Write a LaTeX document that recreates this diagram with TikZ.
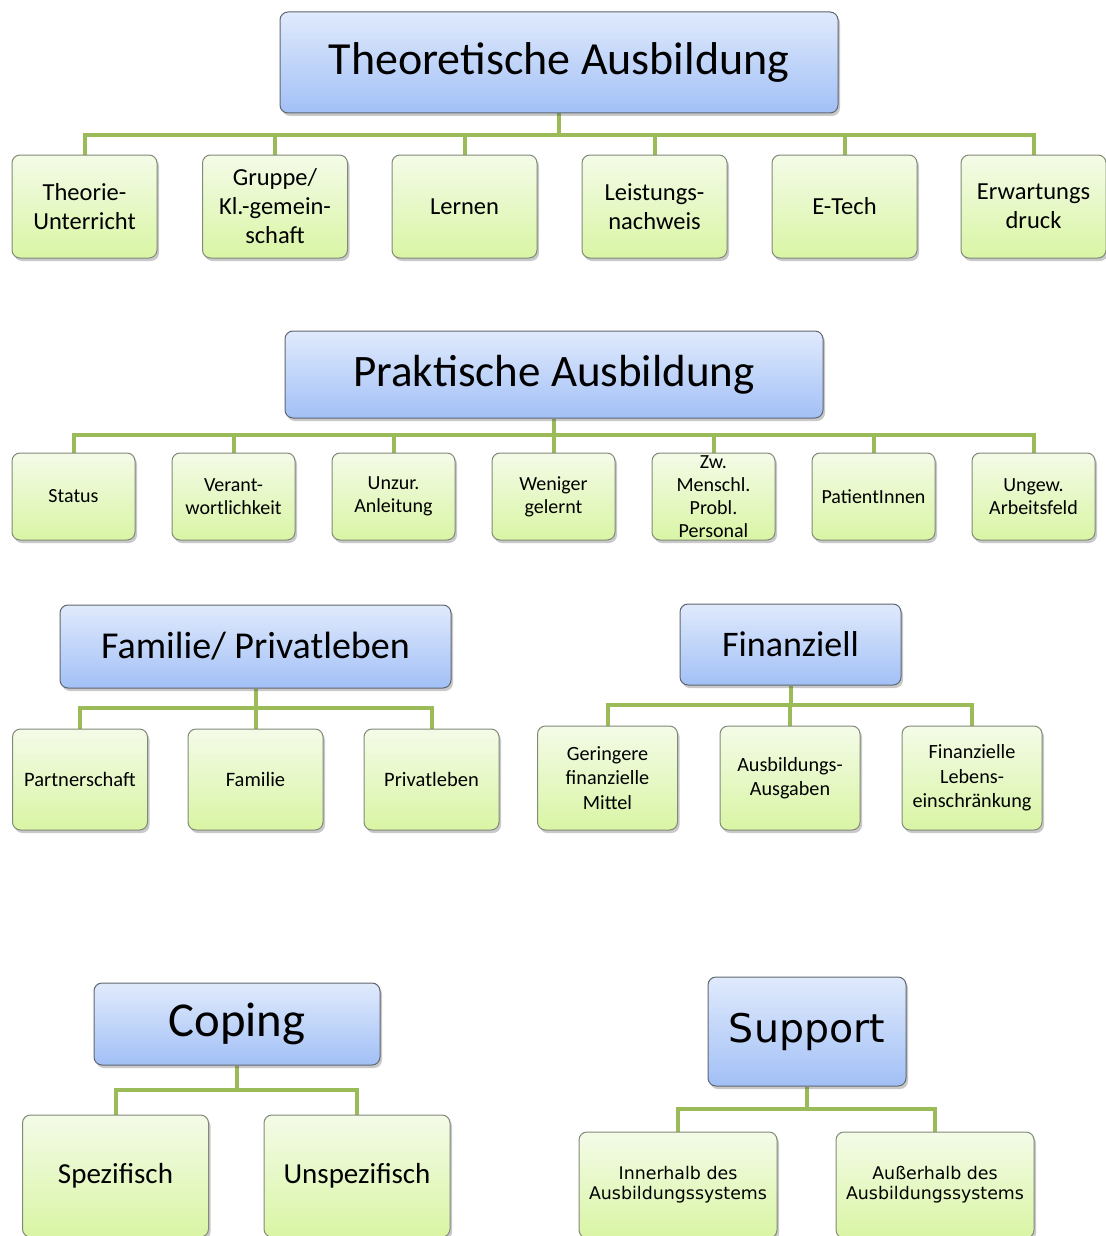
\documentclass[tikz,border=0pt]{standalone}
\usepackage{fontspec}
\setmainfont{Carlito}
\newfontfamily\dejavu{DejaVu Sans}
\usetikzlibrary{shadows,backgrounds}
\definecolor{hdrtop}{HTML}{E0EAFC}
\definecolor{hdrbot}{HTML}{A2C0F6}
\definecolor{kidtop}{HTML}{F4FBE8}
\definecolor{kidbot}{HTML}{D9F5A4}
\definecolor{hdrborder}{HTML}{5F6670}
\definecolor{kidborder}{HTML}{808A78}
\definecolor{linkgreen}{HTML}{9BBB59}
\begin{document}
\begin{tikzpicture}[x=1pt,y=-1pt,
  boxbase/.style={rounded corners=8pt, align=center, inner sep=0pt, text=black,
    drop shadow={shadow xshift=2pt, shadow yshift=-3pt, opacity=0.3, fill=black!70}},
  hdr/.style={boxbase, draw=hdrborder, line width=1pt, top color=hdrtop, bottom color=hdrbot},
  kid/.style={boxbase, draw=kidborder, line width=1pt, top color=kidtop, bottom color=kidbot},
  link/.style={draw=linkgreen, line width=4pt, line join=miter}]
\useasboundingbox (0,0) rectangle (1105,1236);

% ---------- Row 1 ----------
\node[hdr, minimum width=558pt, minimum height=101pt, font=\fontsize{46}{52}\selectfont] (T) at (559,62.5) {Theoretische Ausbildung};
\begin{scope}[every node/.append style={kid, minimum width=145pt, minimum height=103pt, font=\fontsize{24.5}{29}\selectfont}]
\node (t1) at (84.5,206.5) {Theorie-\\Unterricht};
\node (t2) at (275,206.5) {Gruppe/\\Kl.-gemein-\\schaft};
\node (t3) at (464.5,206.5) {Lernen};
\node (t4) at (654.5,206.5) {Leistungs-\\nachweis};
\node (t5) at (844.5,206.5) {E-Tech};
\node (t6) at (1033.5,206.5) {Erwartungs\\druck};
\end{scope}
\coordinate (b1) at (559,135);

% ---------- Row 2 ----------
\node[hdr, minimum width=538pt, minimum height=87pt, font=\fontsize{45}{50}\selectfont] (P) at (554,374.5) {Praktische Ausbildung};
\begin{scope}[every node/.append style={kid, minimum width=123pt, minimum height=87pt, font=\fontsize{20}{23}\selectfont}]
\node (p1) at (73.5,496.5) {Status};
\node (p2) at (233.5,496.5) {Verant-\\wortlichkeit};
\node (p3) at (393.5,496.5) {Unzur.\\Anleitung};
\node (p4) at (553.5,496.5) {Weniger\\gelernt};
\node (p5) at (713.5,496.5) {Zw.\\Menschl.\\Probl.\\Personal};
\node (p6) at (873.5,496.5) {PatientInnen};
\node (p7) at (1033.5,496.5) {Ungew.\\Arbeitsfeld};
\end{scope}
\coordinate (b2) at (554,435);

% ---------- Row 3 left ----------
\node[hdr, minimum width=391pt, minimum height=83pt, font=\fontsize{38}{44}\selectfont] (F) at (255.5,646.5) {Familie/ Privatleben};
\begin{scope}[every node/.append style={kid, minimum width=135pt, minimum height=101pt, font=\fontsize{20.5}{24.5}\selectfont}]
\node (f1) at (80,779.5) {Partnerschaft};
\node (f2) at (255.5,779.5) {Familie};
\node (f3) at (431.5,779.5) {Privatleben};
\end{scope}
\coordinate (b3) at (255.5,708);

% ---------- Row 3 right ----------
\node[hdr, minimum width=221pt, minimum height=81pt, font=\fontsize{36}{42}\selectfont] (G) at (790.5,644.5) {Finanziell};
\begin{scope}[every node/.append style={kid, minimum width=140pt, minimum height=104pt, font=\fontsize{20.2}{24.5}\selectfont}]
\node (g1) at (607.5,778) {Geringere\\finanzielle\\Mittel};
\node (g2) at (790,778) {Ausbildungs-\\Ausgaben};
\node (g3) at (972,778) {Finanzielle\\Lebens-\\einschränkung};
\end{scope}
\coordinate (b4) at (790.5,705);

% ---------- Row 4 left ----------
\node[hdr, minimum width=286pt, minimum height=82pt, font=\fontsize{48.7}{54}\selectfont] (C) at (237,1024) {Coping};
\begin{scope}[every node/.append style={kid, minimum width=186pt, minimum height=122pt, font=\fontsize{29}{34}\selectfont}]
\node (c1) at (115.5,1176) {Spezifisch};
\node (c2) at (357,1176) {Unspezifisch};
\end{scope}
\coordinate (b5) at (237,1090);

% ---------- Row 4 right ----------
\node[hdr, minimum width=198pt, minimum height=109pt, font=\dejavu\fontsize{39.5}{45}\selectfont] (S) at (807,1031.5) {Support};
\begin{scope}[every node/.append style={kid, minimum width=198pt, minimum height=106pt, font=\dejavu\fontsize{17.4}{20}\selectfont}]
\node (s1) at (678,1185) {Innerhalb des\\Ausbildungssystems};
\node (s2) at (935,1185) {Außerhalb des\\Ausbildungssystems};
\end{scope}
\coordinate (b6) at (807,1109);

% ---------- connectors ----------
\begin{scope}[on background layer]
\draw[link] (T.south) -- (b1);
\foreach \c in {t1,t2,t3,t4,t5,t6} \draw[link] (b1) -| (\c.north);
\draw[link] (P.south) -- (b2);
\foreach \c in {p1,p2,p3,p4,p5,p6,p7} \draw[link] (b2) -| (\c.north);
\draw[link] (F.south) -- (b3);
\foreach \c in {f1,f2,f3} \draw[link] (b3) -| (\c.north);
\draw[link] (G.south) -- (b4);
\foreach \c in {g1,g2,g3} \draw[link] (b4) -| (\c.north);
\draw[link] (C.south) -- (b5);
\foreach \c in {c1,c2} \draw[link] (b5) -| (\c.north);
\draw[link] (S.south) -- (b6);
\foreach \c in {s1,s2} \draw[link] (b6) -| (\c.north);
\end{scope}
\end{tikzpicture}
\end{document}
